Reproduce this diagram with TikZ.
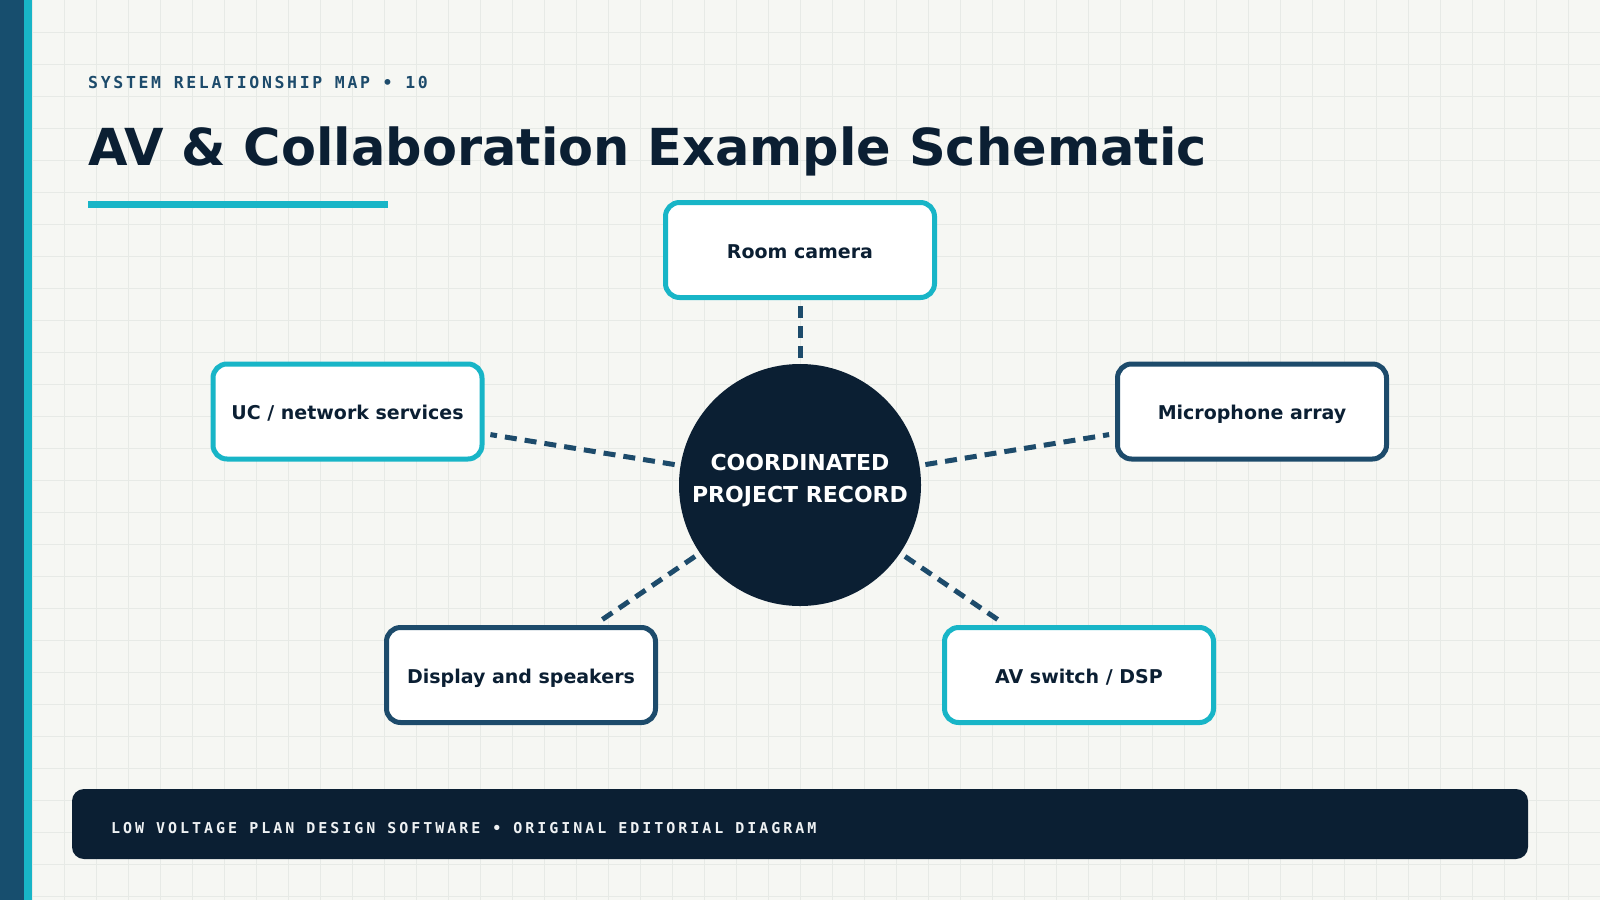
\documentclass[tikz,border=0pt]{standalone}
\usepackage{fontspec}
\setmainfont{DejaVu Sans}
\newfontfamily\monohead{DejaVu Sans Mono}[LetterSpace=16.2]
\newfontfamily\monofoot{DejaVu Sans Mono}[LetterSpace=19.8]
\definecolor{bgc}{HTML}{F6F7F3}
\definecolor{gridc}{HTML}{E7EAE6}
\definecolor{navyc}{HTML}{0B1F33}
\definecolor{bluec}{HTML}{1D4B6B}
\definecolor{barc}{HTML}{174E6E}
\definecolor{cyanc}{HTML}{18B5C7}
\definecolor{footc}{HTML}{EEF1F3}
\pgfdeclarelayer{baselayer}
\pgfdeclarelayer{linklayer}
\pgfsetlayers{baselayer,linklayer,main}
\tikzset{
  box/.style={draw, line width=5pt, rounded corners=14pt, fill=white,
    minimum width=269pt, minimum height=95pt, inner sep=0pt, outer sep=0pt,
    font=\bfseries\fontsize{19}{23}\selectfont, text=navyc,
    text height=16pt, text depth=0pt},
  cyanbox/.style={box, draw=cyanc},
  bluebox/.style={box, draw=bluec},
  link/.style={draw=bluec, line width=5pt, dash pattern=on 12pt off 8pt,
    shorten <=6pt, shorten >=8.5pt},
  hubstyle/.style={circle, fill=navyc, minimum size=242pt, inner sep=0pt, outer sep=0pt},
}
\begin{document}
\begin{tikzpicture}[x=1pt,y=-1pt]
\useasboundingbox (0,0) rectangle (1600,900);
\begin{pgfonlayer}{baselayer}
\fill[bgc] (0,0) rectangle (1600,900);
\foreach \gx in {32,64,...,1600} {\draw[gridc, line width=1pt] (\gx,0) -- (\gx,900);}
\foreach \gy in {32,64,...,900} {\draw[gridc, line width=1pt] (0,\gy) -- (1600,\gy);}
\fill[barc] (0,0) rectangle (24,900);
\fill[cyanc] (24,0) rectangle (32,900);
\end{pgfonlayer}
% header
\node[anchor=base west, inner sep=0pt, text=bluec, font=\monohead\bfseries\fontsize{16.5}{20}\selectfont] (kicker) at (88,88) {SYSTEM RELATIONSHIP MAP • 10};
\node[anchor=base west, inner sep=0pt, text=navyc, font=\bfseries\fontsize{51}{58}\selectfont] (title) at (88,165) {AV \& Collaboration Example Schematic};
\fill[cyanc] (88,201) rectangle (388,208);
% hub
\node[hubstyle] (hub) at (800,485) {};
\node[align=center, text=white, inner sep=0pt, font=\bfseries\fontsize{22}{32}\selectfont] (hubtext) at (800,481) {COORDINATED\\PROJECT RECORD};
% boxes
\node[cyanbox] (cam) at (800,250) {Room camera};
\node[cyanbox] (uc) at (347.5,411.5) {UC / network services};
\node[bluebox] (mic) at (1252,411.5) {Microphone array};
\node[bluebox] (disp) at (521,675) {Display and speakers};
\node[cyanbox] (avs) at (1079,675) {AV switch / DSP};
% links
\begin{pgfonlayer}{linklayer}
\draw[link] (hub) -- (cam);
\draw[link] (hub) -- (uc);
\draw[link] (hub) -- (mic);
\draw[link] (hub) -- (disp);
\draw[link] (hub) -- (avs);
\end{pgfonlayer}
% footer
\fill[navyc, rounded corners=12pt] (72,789) rectangle (1528,859);
\node[anchor=base west, inner sep=0pt, text=footc, font=\monofoot\bfseries\fontsize{15}{18}\selectfont] (foot) at (111,833) {LOW VOLTAGE PLAN DESIGN SOFTWARE • ORIGINAL EDITORIAL DIAGRAM};
\end{tikzpicture}
\end{document}
